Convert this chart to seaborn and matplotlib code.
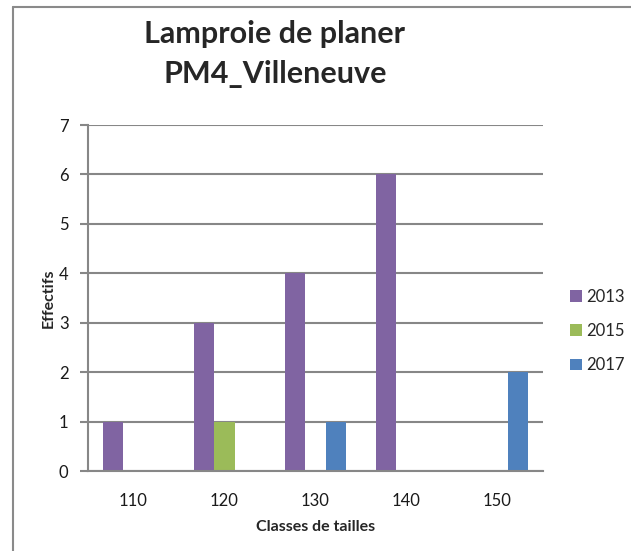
import matplotlib
matplotlib.use("Agg")
import matplotlib.pyplot as plt
import seaborn as sns
import pandas as pd
from matplotlib.lines import Line2D
from matplotlib.patches import Patch

categories = ["110", "120", "130", "140", "150"]
years = ["2013", "2015", "2017"]
v2013 = [1, 3, 4, 6, 0]
v2015 = [0, 1, 0, 0, 0]
v2017 = [0, 0, 1, 0, 2]
colors = ["#8064A2", "#9BBB59", "#4F81BD"]

rows = []
for yr, vals in zip(years, [v2013, v2015, v2017]):
    for c, v in zip(categories, vals):
        rows.append({"Classe": c, "Année": yr, "Effectifs": v})
df = pd.DataFrame(rows)

sns.set_theme(style="white")
plt.rcParams["font.family"] = ["Lato", "DejaVu Sans"]

fig = plt.figure(figsize=(6.31, 5.51), dpi=100)
ax = fig.add_axes([88/631, 1-471/551, (543-88)/631, (471-125)/551])

sns.barplot(data=df, x="Classe", y="Effectifs", hue="Année", order=categories,
            hue_order=years, palette=colors, width=0.667, linewidth=0,
            saturation=1, ax=ax, legend=False)

grid_c = "#878787"
ax.set_ylim(0, 7)
ax.set_yticks(range(0, 8))
ax.set_xlim(-0.5, 4.5)
ax.yaxis.grid(True, color=grid_c, linewidth=1.5)
ax.set_axisbelow(True)
for s in ["top", "right"]:
    ax.spines[s].set_visible(False)
ax.spines["left"].set_color(grid_c)
ax.spines["left"].set_linewidth(1.5)
ax.spines["bottom"].set_color(grid_c)
ax.spines["bottom"].set_linewidth(1.5)
ax.tick_params(axis="y", which="both", left=True, length=6, width=1.5,
               color=grid_c, labelsize=12, pad=8, labelcolor="#1a1a1a")
ax.tick_params(axis="x", bottom=False, labelsize=12, pad=10, labelcolor="#1a1a1a")

ax.set_xlabel("Classes de tailles", fontsize=11.5, fontweight="bold", labelpad=8)
ax.set_ylabel("Effectifs", fontsize=11.5, fontweight="bold", labelpad=2)

fig.text(275/631, 1-34/551, "Lamproie de planer", ha="center", va="center",
         fontsize=22, fontweight="bold")
fig.text(275/631, 1-74/551, "PM4_Villeneuve", ha="center", va="center",
         fontsize=22, fontweight="bold")

handles = [Patch(facecolor=c, edgecolor="none") for c in colors]
fig.legend(handles, years, loc="center left", bbox_to_anchor=(570/631, 1-331/551),
           frameon=False, fontsize=12, handlelength=0.7, handleheight=0.7,
           handletextpad=0.25, labelspacing=1.1, borderpad=0, borderaxespad=0)

frame_c = "#8a8a8a"
fig.add_artist(Line2D([13/631, 13/631], [0, 1-7/551], color=frame_c, linewidth=1.5,
                      transform=fig.transFigure))
fig.add_artist(Line2D([13/631, 1], [1-7/551, 1-7/551], color=frame_c, linewidth=1.5,
                      transform=fig.transFigure))

fig.savefig("out.png", dpi=100)
